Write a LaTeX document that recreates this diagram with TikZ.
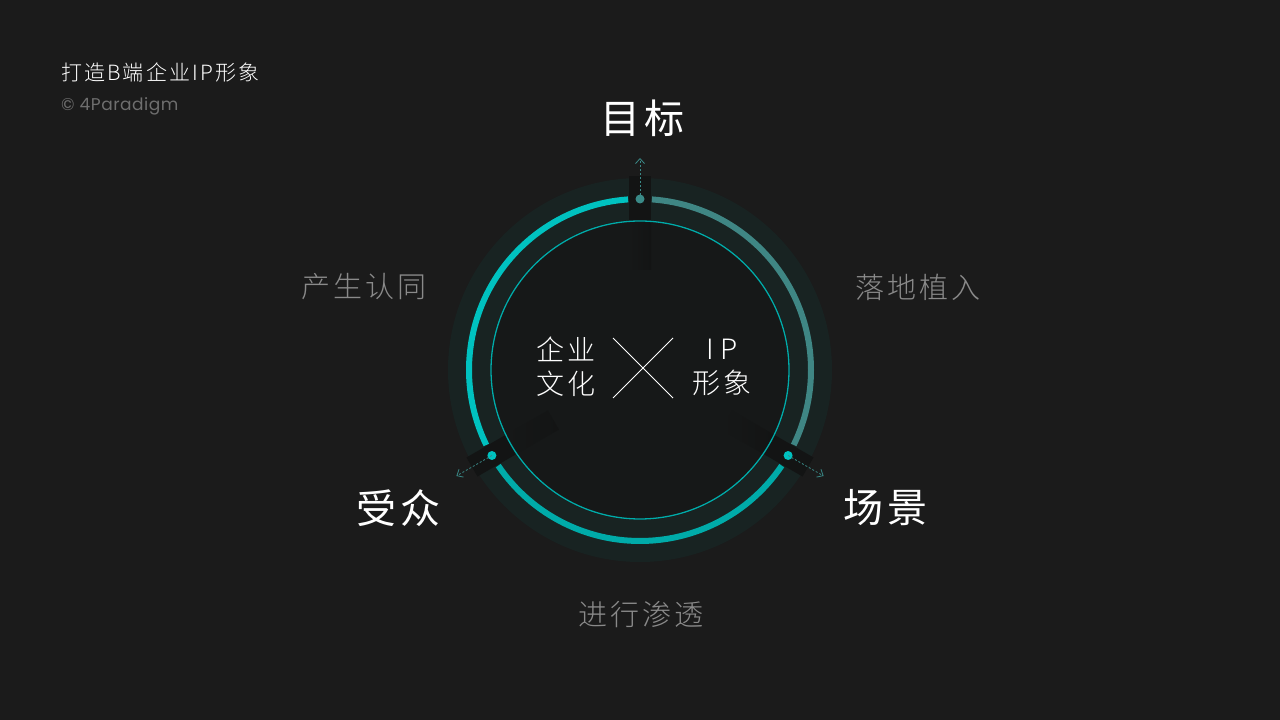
\documentclass[tikz,border=0pt]{standalone}
\usepackage{fontspec}
\setmainfont{Noto Sans CJK SC}
\newfontfamily\lightfont{Noto Sans CJK SC Light}
\newfontfamily\latinfont{Poppins}
\usetikzlibrary{arrows.meta}
\definecolor{bgc}{HTML}{1B1B1B}
\definecolor{ringbg}{HTML}{182322}
\definecolor{innerbg}{HTML}{161818}
\definecolor{spokec}{HTML}{131414}
\definecolor{cyanA}{HTML}{00C2C0}
\definecolor{cyanB}{HTML}{00ABA9}
\definecolor{tealM}{HTML}{3F8684}
\definecolor{arrowc}{HTML}{3A8A88}
\definecolor{sidegray}{HTML}{8A8A8A}
\definecolor{subgray}{HTML}{6E6E6E}
\tikzset{
  bigtxt/.style={text=white,font=\fontsize{40}{44}\selectfont\addfontfeature{LetterSpace=10},inner sep=0pt},
  sidetxt/.style={text=sidegray,font=\lightfont\fontsize{29}{33}\selectfont\addfontfeature{LetterSpace=10},inner sep=0pt},
  ctxt/.style={text=white,font=\lightfont\fontsize{28}{32}\selectfont\addfontfeature{LetterSpace=14},inner sep=0pt,align=center},
  thick ring/.style={line width=6pt},
  dotstyle/.style={circle,inner sep=0pt,minimum size=9pt},
  dasharrow/.style={draw=arrowc,line width=0.8pt,dash pattern=on 2pt off 2pt,-{Straight Barb[length=5pt,width=9pt,line width=0.8pt]}},
}
\begin{document}
\begin{tikzpicture}[x=1pt,y=1pt]
\fill[bgc] (0,0) rectangle (1280,720);
\useasboundingbox (0,0) rectangle (1280,720);
\coordinate (C) at (640,350);
% outer disc
\fill[ringbg] (C) circle[radius=192pt];
\fill[innerbg] (C) circle[radius=150pt];
% spokes
\foreach \a in {90,210,330}{
  \begin{scope}[shift={(C)},rotate=\a]
    \fill[spokec] (148,-11) rectangle (194,11);
    \shade[left color=innerbg,right color=spokec] (100,-11) rectangle (148.5,11);
  \end{scope}
}
% thin ring
\draw[cyanB,line width=1.3pt] (C) circle[radius=149pt];
% thick ring arcs
\draw[cyanA,thick ring] ([shift={(94:171pt)}]C) arc[start angle=94,end angle=206,radius=171pt];
\draw[cyanB,thick ring] ([shift={(214:171pt)}]C) arc[start angle=214,end angle=326,radius=171pt];
\draw[tealM,thick ring] ([shift={(86:171pt)}]C) arc[start angle=86,end angle=-26,radius=171pt];
% dots
\node[dotstyle,fill=arrowc] (d1) at ([shift={(90:171pt)}]C) {};
\node[dotstyle,fill=cyanA] (d2) at ([shift={(210:171pt)}]C) {};
\node[dotstyle,fill=cyanA] (d3) at ([shift={(330:171pt)}]C) {};
\coordinate (e1) at ([shift={(90:212pt)}]C);
\coordinate (e2) at ([shift={(210:212pt)}]C);
\coordinate (e3) at ([shift={(330:212pt)}]C);
\draw[dasharrow] (d1.center) -- (e1);
\draw[dasharrow] (d2.center) -- (e2);
\draw[dasharrow] (d3.center) -- (e3);
% labels
\node[bigtxt] (t1) at (642,602) {目标};
\node[bigtxt] (t2) at (398,212) {受众};
\node[bigtxt] (t3) at (885,212) {场景};
\node[sidetxt] (s1) at (364,433) {产生认同};
\node[sidetxt] (s2) at (918,433) {落地植入};
\node[sidetxt] (s3) at (641,105) {进行渗透};
% center
\node[ctxt] (c1) at (566,353) {企业\\[2pt]文化};
\node[ctxt] (c2) at (722,353) {I\hspace{6pt}P\\[2pt]形象};
\coordinate (x1) at (613,382);
\coordinate (x2) at (673,322);
\coordinate (x3) at (673,382);
\coordinate (x4) at (613,322);
\draw[white,line width=0.8pt] (x1) -- (x2);
\draw[white,line width=0.8pt] (x3) -- (x4);
% title
\node[anchor=west,text=white,font=\lightfont\fontsize{21}{24}\selectfont\addfontfeature{LetterSpace=10},inner sep=0pt] (title) at (61,648) {打造B端企业IP形象};
\node[anchor=west,text=subgray,font=\latinfont\fontsize{17}{20}\selectfont\addfontfeature{LetterSpace=3},inner sep=0pt] (sub) at (61,614) {© 4Paradigm};
\end{tikzpicture}
\end{document}
